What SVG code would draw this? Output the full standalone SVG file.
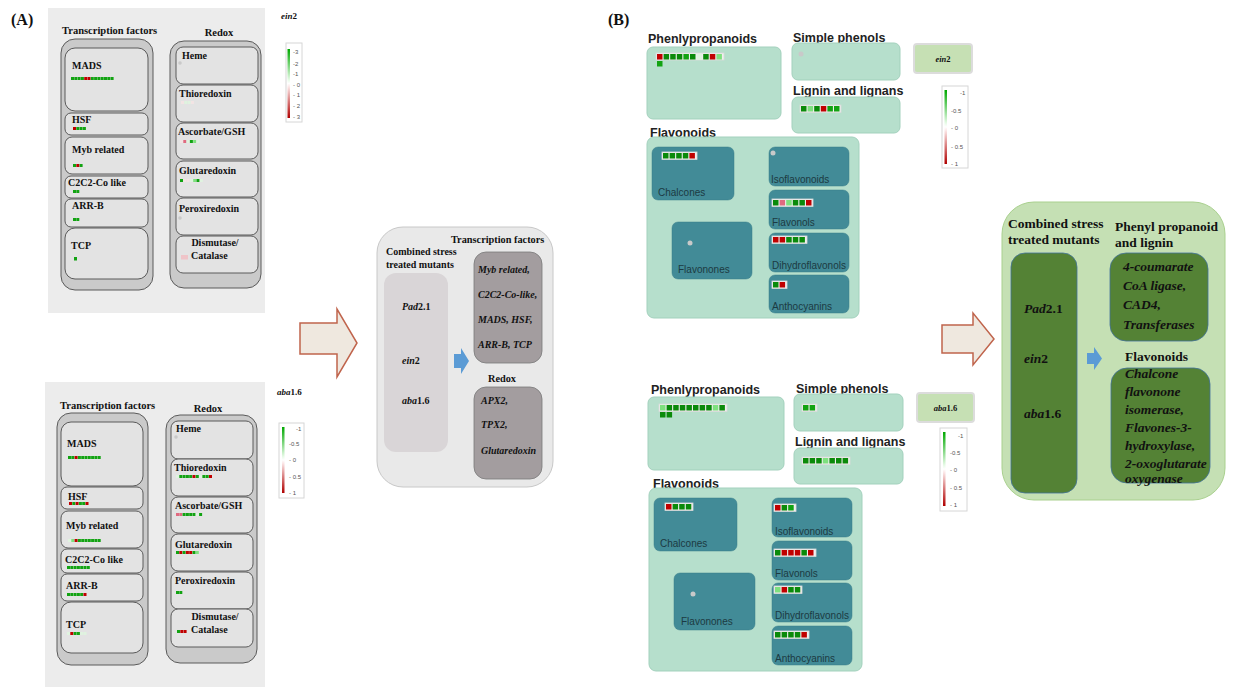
<svg xmlns="http://www.w3.org/2000/svg" width="1233" height="687" viewBox="0 0 1233 687">
<defs>
<linearGradient id="cbar" x1="0" y1="0" x2="0" y2="1">
<stop offset="0" stop-color="#00a800"/><stop offset="0.45" stop-color="#e8fbe8"/><stop offset="0.5" stop-color="#ffffff"/><stop offset="0.55" stop-color="#fbe6e6"/><stop offset="1" stop-color="#b00000"/>
</linearGradient>
<style>
.serifb{font-family:"Liberation Serif","Times New Roman",serif;font-weight:bold;fill:#111}
.it{font-style:italic}
.sans{font-family:"Liberation Sans",Arial,sans-serif}
.ttl{font-family:"Liberation Sans",Arial,sans-serif;font-weight:bold;font-size:12.5px;fill:#222}
.sub{font-family:"Liberation Sans",Arial,sans-serif;font-size:10px;fill:#1c3a42}
.bgA{fill:#ececec}
.outer{fill:#cacaca;stroke:#5a5a5a;stroke-width:1}
.inner{fill:#e3e3e3;stroke:#5a5a5a;stroke-width:1}
.lab{font-size:10px}
.mint{fill:#b6dfcc;stroke:#a3d1bd;stroke-width:1}
.teal{fill:#428b97;stroke:#3a7f8a;stroke-width:0.5}
.leg{fill:#fff;stroke:#d6d6d6;stroke-width:1}
.tk{font-family:"Liberation Sans",Arial,sans-serif;font-size:6px;fill:#555}
.g{fill:#12a312}.d{fill:#0a8a0a}.l{fill:#7ee07e}.r{fill:#c00000}.p{fill:#e06a80}.w{fill:#f3e4e4}.v{fill:#dff3df}
.dot{fill:#c9c9c9}
.hm{fill:#efefef;stroke:#d9d9d9;stroke-width:0.8}
.bigarrow{fill:#efe8df;stroke:#c0644c;stroke-width:1.5}
.blue{fill:#5b9bd5}
</style>
</defs>
<rect width="1233" height="687" fill="#ffffff"/>

<!-- panel labels -->
<text class="serifb" x="11" y="25" font-size="16">(A)</text>
<text class="serifb" x="608" y="25" font-size="16">(B)</text>

<!-- ===== Panel A top (ein2) ===== -->
<g id="A-top">
<rect class="bgA" x="48" y="8" width="217" height="305"/>
<text class="serifb" x="62" y="34" font-size="10.5">Transcription factors</text>
<text class="serifb" x="219" y="36" font-size="10.5" text-anchor="middle">Redox</text>
<g id="A-top-tf">
<rect class="outer" x="61" y="39" width="92" height="251" rx="14"/>
<rect class="inner" x="65" y="48" width="83" height="63" rx="10"/>
<rect class="inner" x="65" y="113" width="83" height="22" rx="6"/>
<rect class="inner" x="65" y="137" width="83" height="37" rx="7"/>
<rect class="inner" x="65" y="176" width="83" height="22" rx="6"/>
<rect class="inner" x="65" y="199" width="83" height="28" rx="6"/>
<rect class="inner" x="65" y="228" width="83" height="51" rx="10"/>
<g class="serifb lab">
<text x="72" y="69">MADS</text>
<text x="72" y="123">HSF</text>
<text x="72" y="153">Myb related</text>
<text x="68" y="186">C2C2-Co like</text>
<text x="72" y="209">ARR-B</text>
<text x="71" y="249">TCP</text>
</g>
<g>
<rect class="g" x="71" y="77" width="3" height="3"/><rect class="g" x="74.3" y="77" width="3" height="3"/><rect class="g" x="77.6" y="77" width="3" height="3"/><rect class="g" x="80.9" y="77" width="3" height="3"/><rect class="r" x="84.2" y="77" width="3" height="3"/><rect class="r" x="87.5" y="77" width="3" height="3"/><rect class="g" x="90.8" y="77" width="3" height="3"/><rect class="g" x="94.1" y="77" width="3" height="3"/><rect class="g" x="97.4" y="77" width="3" height="3"/><rect class="g" x="100.7" y="77" width="3" height="3"/><rect class="g" x="104" y="77" width="3" height="3"/><rect class="g" x="107.3" y="77" width="3" height="3"/><rect class="g" x="110.6" y="77" width="3" height="3"/>
<rect class="r" x="73" y="127" width="3" height="3"/><rect class="g" x="76.3" y="127" width="3" height="3"/><rect class="g" x="79.6" y="127" width="3" height="3"/><rect class="g" x="82.9" y="127" width="3" height="3"/>
<rect class="g" x="73" y="164" width="3" height="3"/><rect class="r" x="76.3" y="164" width="3" height="3"/><rect class="g" x="79.6" y="164" width="3" height="3"/>
<rect class="g" x="73" y="190" width="3" height="3"/><rect class="g" x="76.3" y="190" width="3" height="3"/>
<rect class="g" x="73" y="218" width="3" height="3"/><rect class="g" x="76.3" y="218" width="3" height="3"/>
<rect class="g" x="74" y="257" width="3" height="3.5"/>
</g>
</g>
<g id="A-top-redox">
<rect class="outer" x="170" y="41" width="91" height="247" rx="14"/>
<rect class="inner" x="176" y="47" width="82" height="37" rx="7"/>
<rect class="inner" x="176" y="85" width="82" height="37" rx="7"/>
<rect class="inner" x="176" y="123" width="82" height="36" rx="7"/>
<rect class="inner" x="176" y="161" width="82" height="36" rx="7"/>
<rect class="inner" x="176" y="198" width="82" height="37" rx="7"/>
<rect class="inner" x="176" y="236" width="82" height="37" rx="7"/>
<g class="serifb lab">
<text x="182" y="59">Heme</text>
<text x="179" y="97">Thioredoxin</text>
<text x="178" y="135">Ascorbate/GSH</text>
<text x="179" y="174">Glutaredoxin</text>
<text x="179" y="212">Peroxiredoxin</text>
<text x="215" y="246" text-anchor="middle">Dismutase/</text>
<text x="191" y="259">Catalase</text>
</g>
<circle class="dot" cx="180" cy="63" r="1.8"/>
<circle class="dot" cx="180" cy="218" r="1.8"/>
<rect class="w" x="181" y="101" width="3" height="3"/><rect class="v" x="184.3" y="101" width="3" height="3"/><rect class="v" x="187.6" y="101" width="3" height="3"/><rect class="w" x="190.9" y="101" width="3" height="3"/>
<rect class="w" x="180" y="140" width="3" height="3"/><rect class="p" x="183.3" y="140" width="3" height="3"/><rect class="v" x="186.6" y="140" width="3" height="3"/><rect class="g" x="189.9" y="140" width="3" height="3"/><rect class="l" x="193.2" y="140" width="3" height="3"/><rect class="v" x="196.5" y="140" width="3" height="3"/>
<rect class="g" x="180" y="179" width="3" height="3"/><rect class="w" x="183.3" y="179" width="3" height="3"/><rect class="w" x="186.6" y="179" width="3" height="3"/><rect class="v" x="189.9" y="179" width="3" height="3"/><rect class="l" x="193.2" y="179" width="3" height="3"/><rect class="g" x="196.5" y="179" width="3" height="3"/><rect class="v" x="199.8" y="179" width="3" height="3"/>
<rect fill="#efc4c8" x="181" y="255" width="7" height="4.5"/>
</g>
</g>

<!-- legend A top -->
<g id="legend-A-top">
<text class="serifb it" x="281" y="19" font-size="9">ein<tspan font-style="normal">2</tspan></text>
<rect class="leg" x="286" y="43" width="16" height="79"/>
<rect fill="url(#cbar)" x="287.5" y="49" width="2.5" height="69"/>
<text class="tk" x="293" y="54">-3</text>
<text class="tk" x="293" y="66">-2</text>
<text class="tk" x="293" y="76">-1</text>
<text class="tk" x="293" y="87">- 0</text>
<text class="tk" x="293" y="97">- 1</text>
<text class="tk" x="293" y="108">- 2</text>
<text class="tk" x="293" y="119">- 3</text>
</g>

<!-- ===== Panel A bottom (aba1.6) ===== -->
<g id="A-bottom">
<rect class="bgA" x="45" y="382" width="220" height="305"/>
<text class="serifb" x="60" y="409" font-size="10.5">Transcription factors</text>
<text class="serifb" x="208" y="412" font-size="10.5" text-anchor="middle">Redox</text>
<g id="A-bot-tf">
<rect class="outer" x="57" y="413" width="91" height="252" rx="14"/>
<rect class="inner" x="61" y="422" width="82" height="64" rx="10"/>
<rect class="inner" x="61" y="487" width="82" height="22" rx="6"/>
<rect class="inner" x="61" y="511" width="82" height="37" rx="7"/>
<rect class="inner" x="61" y="549" width="82" height="24" rx="6"/>
<rect class="inner" x="61" y="574" width="82" height="27" rx="6"/>
<rect class="inner" x="61" y="602" width="82" height="51" rx="10"/>
<g class="serifb lab">
<text x="67" y="447">MADS</text>
<text x="68" y="500">HSF</text>
<text x="66" y="529">Myb related</text>
<text x="65" y="563">C2C2-Co like</text>
<text x="66" y="589">ARR-B</text>
<text x="66" y="628">TCP</text>
</g>
<rect class="g" x="68" y="456" width="3" height="3"/><rect class="g" x="71.3" y="456" width="3" height="3"/><rect class="r" x="74.6" y="456" width="3" height="3"/><rect class="g" x="77.9" y="456" width="3" height="3"/><rect class="g" x="81.2" y="456" width="3" height="3"/><rect class="g" x="84.5" y="456" width="3" height="3"/><rect class="g" x="87.8" y="456" width="3" height="3"/><rect class="g" x="91.1" y="456" width="3" height="3"/><rect class="g" x="94.4" y="456" width="3" height="3"/><rect class="g" x="97.7" y="456" width="3" height="3"/>
<rect class="r" x="69" y="502" width="3" height="3"/><rect class="g" x="72.3" y="502" width="3" height="3"/><rect class="r" x="75.6" y="502" width="3" height="3"/><rect class="g" x="78.9" y="502" width="3" height="3"/><rect class="g" x="82.2" y="502" width="3" height="3"/><rect class="r" x="85.5" y="502" width="3" height="3"/>
<rect class="v" x="68" y="539" width="3" height="3"/><rect class="l" x="71.3" y="539" width="3" height="3"/><rect class="r" x="74.6" y="539" width="3" height="3"/><rect class="g" x="77.9" y="539" width="3" height="3"/><rect class="g" x="81.2" y="539" width="3" height="3"/><rect class="g" x="84.5" y="539" width="3" height="3"/><rect class="g" x="87.8" y="539" width="3" height="3"/><rect class="g" x="91.1" y="539" width="3" height="3"/><rect class="g" x="94.4" y="539" width="3" height="3"/><rect class="g" x="97.7" y="539" width="3" height="3"/>
<rect class="g" x="67" y="566" width="3" height="3"/><rect class="g" x="70.3" y="566" width="3" height="3"/><rect class="g" x="73.6" y="566" width="3" height="3"/><rect class="g" x="76.9" y="566" width="3" height="3"/><rect class="g" x="80.2" y="566" width="3" height="3"/><rect class="g" x="83.5" y="566" width="3" height="3"/><rect class="g" x="86.8" y="566" width="3" height="3"/>
<rect class="g" x="67" y="593" width="3" height="3"/><rect class="g" x="70.3" y="593" width="3" height="3"/><rect class="g" x="73.6" y="593" width="3" height="3"/><rect class="g" x="76.9" y="593" width="3" height="3"/><rect class="g" x="80.2" y="593" width="3" height="3"/><rect class="r" x="83.5" y="593" width="3" height="3"/>
<rect class="v" x="67" y="632" width="3" height="3"/><rect class="r" x="70.3" y="632" width="3" height="3"/><rect class="g" x="73.6" y="632" width="3" height="3"/><rect class="g" x="76.9" y="632" width="3" height="3"/><rect class="v" x="80.2" y="632" width="3" height="3"/><rect class="v" x="83.5" y="632" width="3" height="3"/>
</g>
<g id="A-bot-redox">
<rect class="outer" x="166" y="415" width="91" height="248" rx="14"/>
<rect class="inner" x="171" y="421" width="82" height="38" rx="7"/>
<rect class="inner" x="171" y="459" width="82" height="37" rx="7"/>
<rect class="inner" x="171" y="497" width="82" height="36" rx="7"/>
<rect class="inner" x="171" y="534" width="82" height="37" rx="7"/>
<rect class="inner" x="171" y="572" width="82" height="37" rx="7"/>
<rect class="inner" x="171" y="609" width="82" height="38" rx="7"/>
<g class="serifb lab">
<text x="176" y="432">Heme</text>
<text x="174" y="471">Thioredoxin</text>
<text x="175" y="509">Ascorbate/GSH</text>
<text x="175" y="548">Glutaredoxin</text>
<text x="175" y="584">Peroxiredoxin</text>
<text x="215" y="620" text-anchor="middle">Dismutase/</text>
<text x="191" y="633">Catalase</text>
</g>
<circle class="dot" cx="176" cy="437" r="1.8"/>
<rect class="v" x="176" y="475" width="3" height="3"/><rect class="g" x="179.3" y="475" width="3" height="3"/><rect class="g" x="182.6" y="475" width="3" height="3"/><rect class="g" x="185.9" y="475" width="3" height="3"/><rect class="g" x="189.2" y="475" width="3" height="3"/><rect class="r" x="192.5" y="475" width="3" height="3"/><rect class="g" x="195.8" y="475" width="3" height="3"/><rect class="v" x="199.1" y="475" width="3" height="3"/><rect class="g" x="202.4" y="475" width="3" height="3"/><rect class="g" x="205.7" y="475" width="3" height="3"/><rect class="r" x="209" y="475" width="3" height="3"/>
<rect class="p" x="176" y="513" width="3" height="3"/><rect class="p" x="179.3" y="513" width="3" height="3"/><rect class="g" x="182.6" y="513" width="3" height="3"/><rect class="g" x="185.9" y="513" width="3" height="3"/><rect class="g" x="189.2" y="513" width="3" height="3"/><rect class="g" x="192.5" y="513" width="3" height="3"/><rect class="v" x="195.8" y="513" width="3" height="3"/><rect class="g" x="199.1" y="513" width="3" height="3"/>
<rect class="g" x="176" y="551" width="3" height="3"/><rect class="r" x="179.3" y="551" width="3" height="3"/><rect class="g" x="182.6" y="551" width="3" height="3"/><rect class="r" x="185.9" y="551" width="3" height="3"/><rect class="r" x="189.2" y="551" width="3" height="3"/><rect class="g" x="192.5" y="551" width="3" height="3"/><rect class="l" x="195.8" y="551" width="3" height="3"/>
<rect class="g" x="176" y="591" width="3" height="3"/><rect class="g" x="179.3" y="591" width="3" height="3"/>
<rect class="g" x="177" y="630" width="3" height="3"/><rect class="r" x="180.3" y="630" width="3" height="3"/><rect class="r" x="183.6" y="630" width="3" height="3"/>
</g>
</g>

<!-- legend A bottom -->
<g id="legend-A-bottom">
<text class="serifb it" x="277" y="395" font-size="9">aba<tspan font-style="normal">1.6</tspan></text>
<rect class="leg" x="279" y="423" width="25" height="75"/>
<rect fill="url(#cbar)" x="282" y="427" width="2.5" height="66"/>
<text class="tk" x="296" y="431">-1</text>
<text class="tk" x="289" y="446">-0.5</text>
<text class="tk" x="289" y="462">-    0</text>
<text class="tk" x="289" y="479">- 0.5</text>
<text class="tk" x="289" y="495">-    1</text>
</g>

<!-- ===== A summary ===== -->
<g id="A-arrow">
<path class="bigarrow" d="M300,323 H337 V309 L357,343 L337,377 V354 H300 Z"/>
</g>
<g id="A-summary">
<rect x="377" y="227" width="176" height="260" rx="26" fill="#e9e9e9" stroke="#c8c8c8"/>
<text class="serifb" font-size="10"><tspan x="386" y="255">Combined stress</tspan><tspan x="386" y="268">treated mutants</tspan></text>
<rect x="384" y="273" width="64" height="179" rx="12" fill="#d9d5d7"/>
<text class="serifb" font-size="10" x="402" y="310"><tspan font-style="italic">Pad</tspan>2.1</text>
<text class="serifb" font-size="10" x="402" y="364"><tspan font-style="italic">ein</tspan>2</text>
<text class="serifb" font-size="10" x="402" y="404"><tspan font-style="italic">aba</tspan>1.6</text>
<path class="blue" d="M454,354 H461 V348 L469,361 L461,374 V368 H454 Z"/>
<text class="serifb" font-size="10.3" x="451" y="243">Transcription factors</text>
<rect x="474" y="252" width="68" height="111" rx="12" fill="#a39d9f" stroke="#7a7a7a" stroke-width="0.8"/>
<g class="serifb it" font-size="10">
<text x="478" y="273">Myb related,</text>
<text x="478" y="298">C2C2-Co-like,</text>
<text x="478" y="323">MADS, HSF,</text>
<text x="478" y="348">ARR-B, TCP</text>
</g>
<text class="serifb" font-size="10.3" x="502" y="382" text-anchor="middle">Redox</text>
<rect x="474" y="387" width="68" height="92" rx="12" fill="#a39d9f" stroke="#7a7a7a" stroke-width="0.8"/>
<g class="serifb it" font-size="10">
<text x="481" y="404">APX2,</text>
<text x="481" y="428">TPX2,</text>
<text x="481" y="454">Glutaredoxin</text>
</g>
</g>

<!-- ===== Panel B top (ein2) ===== -->
<g id="B-top">
<text class="ttl" x="648" y="43">Phenlypropanoids</text>
<rect class="mint" x="647" y="47" width="134" height="72" rx="6"/>
<rect class="hm" x="656" y="53" width="68" height="7"/>
<rect class="r" x="657" y="54" width="5.5" height="5.5"/><rect class="d" x="663.6" y="54" width="5.5" height="5.5"/><rect class="d" x="670.2" y="54" width="5.5" height="5.5"/><rect class="d" x="676.8" y="54" width="5.5" height="5.5"/><rect class="g" x="683.4" y="54" width="5.5" height="5.5"/><rect class="d" x="690" y="54" width="5.5" height="5.5"/><rect class="v" x="696.6" y="54" width="5.5" height="5.5"/><rect class="d" x="703.2" y="54" width="5.5" height="5.5"/><rect class="r" x="709.8" y="54" width="5.5" height="5.5"/><rect class="l" x="716.4" y="54" width="5.5" height="5.5"/>
<rect class="g" x="657" y="61" width="5.5" height="5.5"/>

<text class="ttl" x="793" y="42">Simple phenols</text>
<rect class="mint" x="792" y="43" width="108" height="37" rx="6"/>
<circle class="dot" cx="801" cy="54" r="2.5"/>

<text class="ttl" x="793" y="95">Lignin and lignans</text>
<rect class="mint" x="792" y="97" width="108" height="36" rx="6"/>
<rect class="hm" x="800" y="105" width="41" height="7.5"/>
<rect class="d" x="801" y="106" width="5.5" height="5.5"/><rect class="l" x="807.6" y="106" width="5.5" height="5.5"/><rect class="d" x="814.2" y="106" width="5.5" height="5.5"/><rect class="r" x="820.8" y="106" width="5.5" height="5.5"/><rect class="g" x="827.4" y="106" width="5.5" height="5.5"/><rect class="g" x="834" y="106" width="5.5" height="5.5"/>

<text class="ttl" x="650" y="137">Flavonoids</text>
<rect class="mint" x="647" y="137" width="212" height="181" rx="7"/>
<g id="B-top-chalcones">
<rect class="teal" x="652" y="147" width="82" height="53" rx="6"/>
<rect class="hm" x="662" y="152" width="35" height="7.5"/>
<rect class="d" x="663" y="153" width="5.5" height="5.5"/><rect class="d" x="669.6" y="153" width="5.5" height="5.5"/><rect class="d" x="676.2" y="153" width="5.5" height="5.5"/><rect class="d" x="682.8" y="153" width="5.5" height="5.5"/><rect class="r" x="689.4" y="153" width="5.5" height="5.5"/>
<text class="sub" x="658" y="196">Chalcones</text>
</g>
<g id="B-top-flavonones">
<rect class="teal" x="672" y="222" width="80" height="57" rx="6"/>
<circle class="dot" cx="690" cy="243" r="2.5"/>
<text class="sub" x="678" y="273">Flavonones</text>
</g>
<g id="B-top-iso">
<rect class="teal" x="769" y="147" width="80" height="39" rx="6"/>
<circle class="dot" cx="773" cy="153" r="2.5"/>
<text class="sub" x="771" y="183">Isoflavonoids</text>
</g>
<g id="B-top-flavonols">
<rect class="teal" x="769" y="190" width="80" height="39" rx="6"/>
<rect class="hm" x="772" y="199" width="41" height="7.5"/>
<rect class="d" x="773" y="200" width="5.5" height="5.5"/><rect class="p" x="779.6" y="200" width="5.5" height="5.5"/><rect class="l" x="786.2" y="200" width="5.5" height="5.5"/><rect class="d" x="792.8" y="200" width="5.5" height="5.5"/><rect class="d" x="799.4" y="200" width="5.5" height="5.5"/><rect class="r" x="806" y="200" width="5.5" height="5.5"/>
<text class="sub" x="772" y="226">Flavonols</text>
</g>
<g id="B-top-dihydro">
<rect class="teal" x="769" y="233" width="80" height="39" rx="6"/>
<rect class="hm" x="772" y="236" width="35" height="7.5"/>
<rect class="r" x="773" y="237" width="5.5" height="5.5"/><rect class="r" x="779.6" y="237" width="5.5" height="5.5"/><rect class="d" x="786.2" y="237" width="5.5" height="5.5"/><rect class="d" x="792.8" y="237" width="5.5" height="5.5"/><rect class="d" x="799.4" y="237" width="5.5" height="5.5"/>
<text class="sub" x="772" y="269">Dihydroflavonols</text>
</g>
<g id="B-top-antho">
<rect class="teal" x="769" y="275" width="80" height="38" rx="6"/>
<rect class="hm" x="772" y="281" width="15" height="7.5"/>
<rect class="d" x="773" y="282" width="5.5" height="5.5"/><rect class="r" x="779.6" y="282" width="5.5" height="5.5"/>
<text class="sub" x="772" y="310">Anthocyanins</text>
</g>
</g>

<g id="B-top-label">
<rect x="914" y="44" width="58" height="29" rx="3" fill="#c6e0b4" stroke="#dcdcdc" stroke-width="2"/>
<text class="serifb it" font-size="8.5" x="943" y="62" text-anchor="middle">ein<tspan font-style="normal">2</tspan></text>
</g>
<g id="legend-B-top">
<rect class="leg" x="942" y="86" width="26" height="82"/>
<rect fill="url(#cbar)" x="944.5" y="90" width="2.5" height="74"/>
<text class="tk" x="960" y="95">-1</text>
<text class="tk" x="951" y="113">-0.5</text>
<text class="tk" x="951" y="130">-    0</text>
<text class="tk" x="951" y="149">- 0.5</text>
<text class="tk" x="951" y="166">-    1</text>
</g>

<!-- ===== Panel B bottom (aba1.6) ===== -->
<g id="B-bottom">
<text class="ttl" x="651" y="394">Phenlypropanoids</text>
<rect class="mint" x="648" y="397" width="136" height="73" rx="6"/>
<rect class="hm" x="659" y="404" width="68" height="7.5"/>
<rect class="l" x="660" y="405" width="5.5" height="5.5"/><rect class="d" x="666.6" y="405" width="5.5" height="5.5"/><rect class="d" x="673.2" y="405" width="5.5" height="5.5"/><rect class="d" x="679.8" y="405" width="5.5" height="5.5"/><rect class="d" x="686.4" y="405" width="5.5" height="5.5"/><rect class="d" x="693" y="405" width="5.5" height="5.5"/><rect class="d" x="699.6" y="405" width="5.5" height="5.5"/><rect class="d" x="706.2" y="405" width="5.5" height="5.5"/><rect class="l" x="712.8" y="405" width="5.5" height="5.5"/><rect class="d" x="719.4" y="405" width="5.5" height="5.5"/>
<rect class="d" x="660" y="412" width="5.5" height="5.5"/><rect class="d" x="666.6" y="412" width="5.5" height="5.5"/>

<text class="ttl" x="796" y="393">Simple phenols</text>
<rect class="mint" x="794" y="394" width="109" height="37" rx="6"/>
<rect class="hm" x="802" y="404" width="15" height="7.5"/>
<rect class="g" x="803" y="405" width="5.5" height="5.5"/><rect class="g" x="809.6" y="405" width="5.5" height="5.5"/>

<text class="ttl" x="795" y="446">Lignin and lignans</text>
<rect class="mint" x="794" y="448" width="109" height="36" rx="6"/>
<rect class="hm" x="802" y="457" width="48" height="7.5"/>
<rect class="d" x="803" y="458" width="5.5" height="5.5"/><rect class="d" x="809.6" y="458" width="5.5" height="5.5"/><rect class="d" x="816.2" y="458" width="5.5" height="5.5"/><rect class="l" x="822.8" y="458" width="5.5" height="5.5"/><rect class="d" x="829.4" y="458" width="5.5" height="5.5"/><rect class="d" x="836" y="458" width="5.5" height="5.5"/><rect class="d" x="842.6" y="458" width="5.5" height="5.5"/>

<text class="ttl" x="653" y="488">Flavonoids</text>
<rect class="mint" x="649" y="488" width="213" height="183" rx="7"/>
<g id="B-bot-chalcones">
<rect class="teal" x="654" y="498" width="83" height="53" rx="6"/>
<rect class="hm" x="665" y="503" width="28" height="7.5"/>
<rect class="r" x="666" y="504" width="5.5" height="5.5"/><rect class="d" x="672.6" y="504" width="5.5" height="5.5"/><rect class="d" x="679.2" y="504" width="5.5" height="5.5"/><rect class="d" x="685.8" y="504" width="5.5" height="5.5"/>
<text class="sub" x="660" y="547">Chalcones</text>
</g>
<g id="B-bot-flavonones">
<rect class="teal" x="674" y="573" width="81" height="57" rx="6"/>
<circle class="dot" cx="693" cy="594" r="2.5"/>
<text class="sub" x="681" y="625">Flavonones</text>
</g>
<g id="B-bot-iso">
<rect class="teal" x="772" y="498" width="80" height="39" rx="6"/>
<rect class="hm" x="774" y="504" width="22" height="7.5"/>
<rect class="r" x="775" y="505" width="5.5" height="5.5"/><rect class="d" x="781.6" y="505" width="5.5" height="5.5"/><rect class="g" x="788.2" y="505" width="5.5" height="5.5"/>
<text class="sub" x="775" y="535">Isoflavonoids</text>
</g>
<g id="B-bot-flavonols">
<rect class="teal" x="772" y="541" width="80" height="39" rx="6"/>
<rect class="hm" x="774" y="549" width="42" height="7.5"/>
<rect class="d" x="775" y="550" width="5.5" height="5.5"/><rect class="r" x="781.6" y="550" width="5.5" height="5.5"/><rect class="r" x="788.2" y="550" width="5.5" height="5.5"/><rect class="r" x="794.8" y="550" width="5.5" height="5.5"/><rect class="d" x="801.4" y="550" width="5.5" height="5.5"/><rect class="r" x="808" y="550" width="5.5" height="5.5"/>
<text class="sub" x="775" y="577">Flavonols</text>
</g>
<g id="B-bot-dihydro">
<rect class="teal" x="772" y="583" width="80" height="39" rx="6"/>
<rect class="hm" x="774" y="586" width="28" height="7.5"/>
<rect class="l" x="775" y="587" width="5.5" height="5.5"/><rect class="r" x="781.6" y="587" width="5.5" height="5.5"/><rect class="d" x="788.2" y="587" width="5.5" height="5.5"/><rect class="d" x="794.8" y="587" width="5.5" height="5.5"/>
<text class="sub" x="775" y="619">Dihydroflavonols</text>
</g>
<g id="B-bot-antho">
<rect class="teal" x="772" y="626" width="80" height="39" rx="6"/>
<rect class="hm" x="774" y="631" width="35" height="7.5"/>
<rect class="d" x="775" y="632" width="5.5" height="5.5"/><rect class="d" x="781.6" y="632" width="5.5" height="5.5"/><rect class="d" x="788.2" y="632" width="5.5" height="5.5"/><rect class="d" x="794.8" y="632" width="5.5" height="5.5"/><rect class="r" x="801.4" y="632" width="5.5" height="5.5"/>
<text class="sub" x="775" y="662">Anthocyanins</text>
</g>
</g>

<g id="B-bottom-label">
<rect x="917" y="393" width="57" height="29" rx="3" fill="#c6e0b4" stroke="#dcdcdc" stroke-width="2"/>
<text class="serifb it" font-size="8.5" x="945.5" y="411" text-anchor="middle">aba<tspan font-style="normal">1.6</tspan></text>
</g>
<g id="legend-B-bottom">
<rect class="leg" x="940" y="428" width="27" height="83"/>
<rect fill="url(#cbar)" x="943" y="432" width="2.5" height="74"/>
<text class="tk" x="958" y="438">-1</text>
<text class="tk" x="950" y="455">-0.5</text>
<text class="tk" x="950" y="472">-    0</text>
<text class="tk" x="950" y="490">- 0.5</text>
<text class="tk" x="950" y="507">-    1</text>
</g>

<!-- ===== B summary ===== -->
<g id="B-arrow">
<path class="bigarrow" d="M942,325 H973 V313 L994,339 L973,365 V353 H942 Z"/>
</g>
<g id="B-summary">
<rect x="1002" y="202" width="223" height="298" rx="32" fill="#c5e0b4" stroke="#a9d08e" stroke-width="1"/>
<text class="serifb" font-size="13.5"><tspan x="1008" y="228">Combined stress</tspan><tspan x="1008" y="244">treated mutants</tspan></text>
<rect x="1011" y="253" width="66" height="240" rx="14" fill="#548235" stroke="#41719c" stroke-width="0.8"/>
<text class="serifb" font-size="13.5" x="1024" y="313"><tspan font-style="italic">Pad</tspan>2.1</text>
<text class="serifb" font-size="13.5" x="1024" y="363"><tspan font-style="italic">ein</tspan>2</text>
<text class="serifb" font-size="13.5" x="1024" y="418"><tspan font-style="italic">aba</tspan>1.6</text>
<path class="blue" d="M1087,353 H1094 V347 L1102,358.5 L1094,370 V364 H1087 Z"/>
<text class="serifb" font-size="13.5"><tspan x="1115" y="231">Phenyl propanoid</tspan><tspan x="1115" y="247">and lignin</tspan></text>
<rect x="1110" y="253" width="98" height="88" rx="16" fill="#548235" stroke="#41719c" stroke-width="0.8"/>
<g class="serifb it" font-size="13.5">
<text x="1123" y="271">4-coumarate</text>
<text x="1123" y="290">CoA ligase,</text>
<text x="1123" y="309">CAD4,</text>
<text x="1123" y="329">Transferases</text>
</g>
<text class="serifb" font-size="13.5" x="1125" y="361">Flavonoids</text>
<rect x="1111" y="368" width="99" height="115" rx="16" fill="#548235" stroke="#41719c" stroke-width="0.8"/>
<g class="serifb it" font-size="13.5">
<text x="1125" y="378">Chalcone</text>
<text x="1125" y="396"> flavonone</text>
<text x="1125" y="414">isomerase,</text>
<text x="1125" y="432">Flavones-3-</text>
<text x="1125" y="450">hydroxylase,</text>
<text x="1125" y="468">2-oxoglutarate</text>
<text x="1125" y="483">oxygenase</text>
</g>
</g>
</svg>
